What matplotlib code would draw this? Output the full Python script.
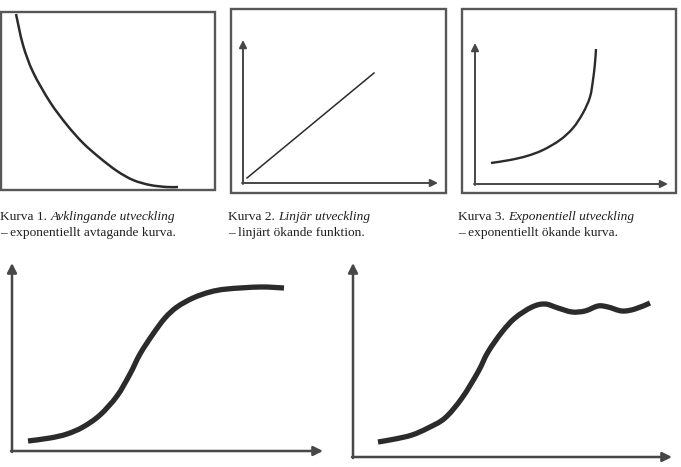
import matplotlib
matplotlib.use("Agg")
import matplotlib.pyplot as plt
import numpy as np
from matplotlib.path import Path
from matplotlib.patches import PathPatch, Rectangle

W, H = 681, 467

# Curve values (local units, origin at the axis corner, y up)
decay_x = [15, 22, 32, 49, 66, 82, 99, 116, 132, 149, 166, 177]
decay_y = [176, 145, 118, 88, 65, 47, 32, 19, 10, 5, 3, 3]

linear_x = [4, 131]
linear_y = [5, 110]

expo_x = [16, 35, 52, 68, 85, 98, 108, 115, 118, 120, 121]
expo_y = [21, 24, 28, 34, 44, 56, 71, 87, 104, 121, 135]

sshape_x = [16, 38, 55, 71, 88, 105, 118, 128, 141, 153, 165, 181, 198, 215, 248, 272]
sshape_y = [10, 13, 17, 24, 36, 55, 77, 97, 117, 133, 144, 153, 159, 162, 164, 163]

wave_x = [25, 42, 59, 75, 92, 109, 125, 135, 149, 162, 179, 192, 205, 219, 232,
          245, 255, 269, 282, 297]
wave_y = [15, 18, 22, 29, 39, 59, 85, 105, 125, 139, 150, 153, 149, 145, 146,
          151, 150, 146, 148, 154]

captions = [
    ("Kurva 1. ", "Avklingande utveckling", "– exponentiellt avtagande kurva."),
    ("Kurva 2. ", "Linjär utveckling", "– linjärt ökande funktion."),
    ("Kurva 3. ", "Exponentiell utveckling", "– exponentiellt ökande kurva."),
]

CURVE = "#2b2b2b"
AXIS = "#474747"


def px_axes(fig, x0, y0, x1, y1):
    # axes placed by pixel box (y counted from the top)
    ax = fig.add_axes([x0 / W, 1 - y1 / H, (x1 - x0) / W, (y1 - y0) / H])
    ax.set_xlim(0, x1 - x0)
    ax.set_ylim(0, y1 - y0)
    ax.axis("off")
    return ax


def smooth_curve(ax, xs, ys, lw):
    # Catmull-Rom through the read points, drawn as cubic Bezier segments
    p = np.column_stack([xs, ys]).astype(float)
    pts = np.vstack([p[0], p, p[-1]])
    verts = [p[0]]
    codes = [Path.MOVETO]
    for i in range(1, len(pts) - 2):
        c1 = pts[i] + (pts[i + 1] - pts[i - 1]) / 6
        c2 = pts[i + 1] - (pts[i + 2] - pts[i]) / 6
        verts += [c1, c2, pts[i + 1]]
        codes += [Path.CURVE4] * 3
    patch = PathPatch(Path(verts, codes), facecolor="none", edgecolor=CURVE,
                      lw=lw, capstyle="butt", clip_on=False)
    ax.add_patch(patch)


def arrows(ax, w, h, lw=1.6, scale=11):
    props = dict(arrowstyle="-|>", color=AXIS, lw=lw, mutation_scale=scale,
                 shrinkA=0, shrinkB=0)
    ax.annotate("", xy=(0, h), xytext=(0, -1), arrowprops=props)
    ax.annotate("", xy=(w, 0), xytext=(-1, 0), arrowprops=props)


fig = plt.figure(figsize=(W / 100, H / 100), dpi=100)
fig.patch.set_facecolor("white")

# frames around the three top panels
bg = fig.add_axes([0, 0, 1, 1])
bg.set_xlim(0, W)
bg.set_ylim(H, 0)
bg.axis("off")
for x0, y0, x1, y1 in [(1, 12, 215, 190), (231, 9, 446, 193), (462, 9, 676, 193)]:
    bg.add_patch(Rectangle((x0, y0), x1 - x0, y1 - y0, fill=False,
                           edgecolor="#575757", lw=1.7))

# Kurva 1: decaying curve inside the box, no arrows
ax1 = px_axes(fig, 1, 12, 215, 190)
smooth_curve(ax1, decay_x, decay_y, 1.8)

# Kurva 2: straight line
ax2 = px_axes(fig, 243, 40, 438, 183)
arrows(ax2, 195, 143, lw=1.4, scale=11)
ax2.plot(linear_x, linear_y, color=CURVE, lw=1.1)

# Kurva 3: exponential growth
ax3 = px_axes(fig, 475, 43, 668, 184)
arrows(ax3, 193, 141, lw=1.4, scale=11)
smooth_curve(ax3, expo_x, expo_y, 1.7)

# bottom left: S-curve
ax4 = px_axes(fig, 12, 263, 323, 451)
arrows(ax4, 311, 188, lw=1.8, scale=14)
smooth_curve(ax4, sshape_x, sshape_y, 3.8)

# bottom right: S-curve with wavy plateau
ax5 = px_axes(fig, 353, 263, 672, 457)
arrows(ax5, 319, 194, lw=1.8, scale=14)
smooth_curve(ax5, wave_x, wave_y, 3.8)

# captions
serif = "Liberation Serif"
for (lead, ital, second), x in zip(captions, [0, 228, 458]):
    t = fig.text(x / W, 1 - 217 / H, lead, family=serif, fontsize=9.6,
                 va="center", color="#1e1e1e")
    fig.canvas.draw()
    bb = t.get_window_extent()
    fig.text(bb.x1 / W, 1 - 217 / H, ital, family=serif, style="italic",
             fontsize=9.6, va="center", color="#1e1e1e")
    fig.text(x / W, 1 - 233 / H, second, family=serif, fontsize=9.6,
             va="center", color="#1e1e1e")

fig.savefig("out.png", dpi=100)
